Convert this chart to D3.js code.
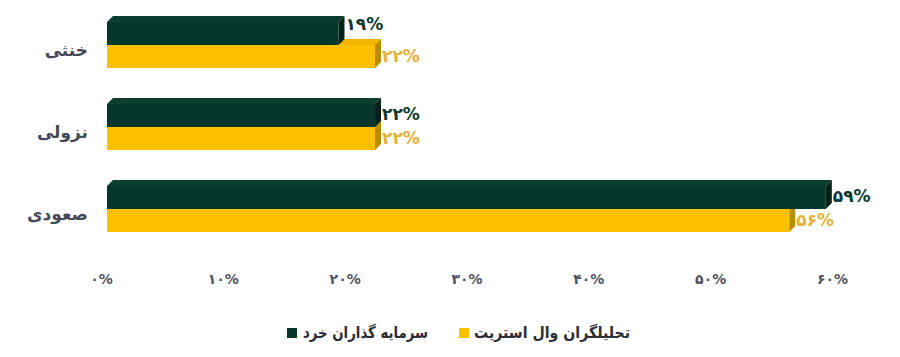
<!DOCTYPE html>
<html><head><meta charset="utf-8">
<script src="https://cdn.jsdelivr.net/npm/d3@7"></script>
<style>
html,body{margin:0;padding:0;background:#fff;}
svg{display:block;font-family:"DejaVu Sans",sans-serif;}
</style></head>
<body>
<svg id="chart" width="900" height="357"></svg>
<script>
// ---- data ----
const categories = ["خنثی", "نزولی", "صعودی"];
const seriesNames = ["سرمایه گذاران خرد", "تحلیلگران وال استریت"];
const retailValues = [19, 22, 59];
const wallStreetValues = [22, 22, 56];
const tickValues = [0, 10, 20, 30, 40, 50, 60];

const colors = {
  front: ["#06372b", "#ffc000"],
  top:   ["#0b3d31", "#f2b600"],
  side:  ["#022219", "#b98c00"],
  label: ["#0d3a30", "#e5b13a"]
};

const persian = s => String(s).replace(/[0-9]/g, d => "۰۱۲۳۴۵۶۷۸۹"[+d]);

const svg = d3.select("#chart");
const depth = 6;

const x = d3.scaleLinear().domain([0, 60]).range([107, 838]);
const y = d3.scaleBand().domain(categories).range([4, 250]).paddingInner(0.439).paddingOuter(0.2195);
const ys = d3.scaleBand().domain([0, 1]).range([0, y.bandwidth()]);

const rows = categories.map((c, i) => ({cat: c, vals: [retailValues[i], wallStreetValues[i]]}));

// bars: draw yellow (series 1) first, then dark (series 0)
const g = svg.append("g");
[1, 0].forEach(s => {
  rows.forEach(r => {
    const x0 = x(0), x1 = x(r.vals[s]);
    const y0 = y(r.cat) + ys(s), h = ys.bandwidth();
    const bar = g.append("g");
    bar.append("polygon")
      .attr("points", [[x0, y0], [x0 + depth, y0 - depth], [x1 + depth, y0 - depth], [x1, y0]].join(" "))
      .attr("fill", colors.top[s]);
    bar.append("rect").attr("x", x0).attr("y", y0).attr("width", x1 - x0).attr("height", h)
      .attr("fill", colors.front[s]);
    bar.append("polygon")
      .attr("points", [[x1, y0], [x1 + depth, y0 - depth], [x1 + depth, y0 + h - depth], [x1, y0 + h]].join(" "))
      .attr("fill", colors.side[s]);
  });
});

// value labels
rows.forEach(r => {
  [0, 1].forEach(s => {
    const y0 = y(r.cat) + ys(s);
    let cy = y0 + ys.bandwidth() / 2 - 1;
    if (s === 0 && r.vals[0] < r.vals[1]) cy = y0 + 2;
    svg.append("text")
      .attr("x", x(r.vals[s]) + depth + 1)
      .attr("y", cy)
      .attr("dominant-baseline", "central")
      .attr("direction", "ltr")
      .attr("font-size", 17).attr("font-weight", "bold")
      .attr("fill", colors.label[s])
      .text(persian(r.vals[s]) + "%");
  });
});

// category labels
svg.append("g").selectAll("text").data(categories).join("text")
  .attr("x", 88)
  .attr("y", d => y(d) + y.bandwidth() / 2 + 5)
  .attr("text-anchor", "end")
  .attr("dominant-baseline", "central")
  .attr("font-size", 17).attr("font-weight", "bold")
  .attr("fill", "#454857")
  .text(d => d);

// x axis
const axis = svg.append("g").attr("transform", "translate(0,274)")
  .call(d3.axisBottom(x).tickValues(tickValues).tickSize(0).tickPadding(0)
    .tickFormat(d => persian(d) + "%"));
axis.select(".domain").remove();
axis.selectAll("text")
  .attr("dx", -6).attr("dy", "0.7em")
  .attr("direction", "ltr")
  .attr("font-size", 14).attr("font-weight", "bold")
  .attr("font-family", "'DejaVu Sans',sans-serif")
  .attr("fill", "#50535f");

// legend
const legendItems = [
  {name: seriesNames[0], color: colors.front[0], sx: 287, tx: 303, w: 125},
  {name: seriesNames[1], color: colors.front[1], sx: 459, tx: 474, w: 156}
];
const lg = svg.append("g");
legendItems.forEach(it => {
  lg.append("rect").attr("x", it.sx).attr("y", 328).attr("width", 10).attr("height", 10).attr("fill", it.color);
  lg.append("text").attr("x", it.tx).attr("y", 332)
    .attr("dominant-baseline", "central")
    .attr("text-anchor", "start")
    .attr("font-size", 16).attr("font-weight", "bold")
    .attr("textLength", it.w).attr("lengthAdjust", "spacingAndGlyphs")
    .attr("fill", "#2b2d35")
    .text(it.name);
});
</script>
</body></html>
